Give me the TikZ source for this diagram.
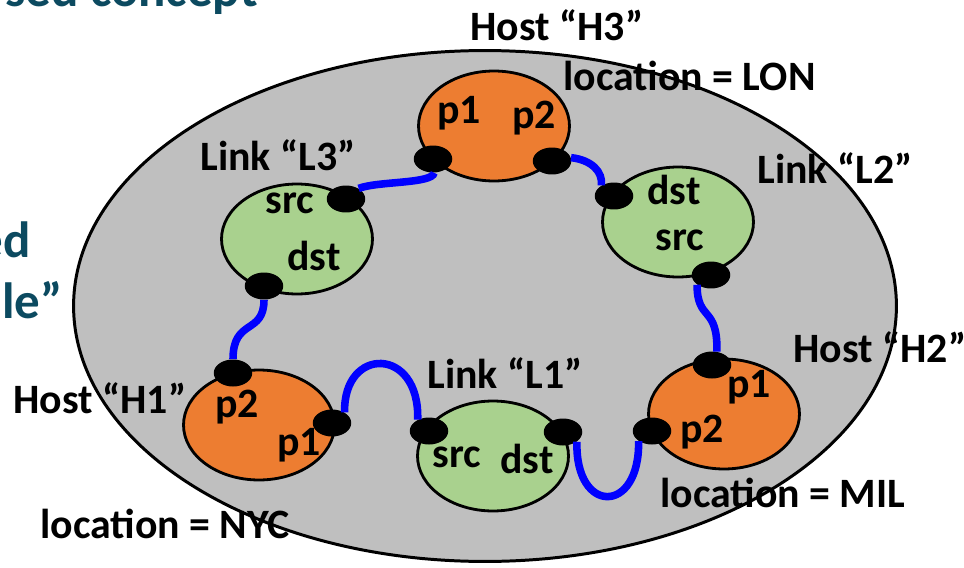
\documentclass[tikz,border=0pt]{standalone}
\usepackage{fontspec}
\setmainfont{Carlito}
\usetikzlibrary{shapes.geometric}
\definecolor{hostorange}{HTML}{ED7D31}
\definecolor{linkgreen}{HTML}{A9D18E}
\definecolor{worldgray}{HTML}{BFBFBF}
\definecolor{slideteal}{RGB}{12,74,96}

\begin{document}
\begin{tikzpicture}[x=0.02cm,y=-0.02cm,
  world/.style={ellipse,draw,line width=1.7pt,fill=worldgray,minimum width=16.46cm,minimum height=10.22cm},
  host/.style={ellipse,draw,line width=1.6pt,fill=hostorange,minimum width=3.02cm,minimum height=2.2cm},
  link/.style={ellipse,draw,line width=1.6pt,fill=linkgreen,minimum width=3.02cm,minimum height=2.2cm},
  port/.style={ellipse,fill=black,minimum width=0.77cm,minimum height=0.54cm,inner sep=0pt},
  wire/.style={blue,line width=4.3pt},
  lbl/.style={anchor=base west,inner sep=0pt,font=\fontsize{23.8}{28}\selectfont\bfseries},
  slide/.style={anchor=base east,inner sep=0pt,text=slideteal,font=\fontsize{29}{34}\selectfont\bfseries}]
  \useasboundingbox (0,0) rectangle (964,568);
  \clip (0,0) rectangle (964,568);

  % cut-off slide text
  \node[slide] (title) at (258,7) {sed concept};
  \node[slide] (side1) at (31,257) {ed};
  \node[slide] (side2) at (63,318) {le”};

  \node[world] (net) at (485,306) {};

  \node[host] (h3) at (494,126) {};
  \node[host] (h1) at (259,425) {};
  \node[host] (h2) at (724,414) {};
  \node[link] (l3) at (297,239) {};
  \node[link] (l2) at (678,222) {};
  \node[link] (l1) at (493,456) {};

  \node[port] (h3p1) at (433,159) {};
  \node[port] (h3p2) at (552,161) {};
  \node[port] (l3src) at (346,199) {};
  \node[port] (l3dst) at (264,286) {};
  \node[port] (l2dst) at (614,196) {};
  \node[port] (l2src) at (711,275) {};
  \node[port] (h1p2) at (233,373) {};
  \node[port] (h1p1) at (332,423) {};
  \node[port] (l1src) at (429,431) {};
  \node[port] (l1dst) at (563,432) {};
  \node[port] (h2p2) at (652,431) {};
  \node[port] (h2p1) at (712,365) {};

  \draw[wire] (l3src.40) .. controls (378,181) and (432,184) .. (h3p1.-85);
  \draw[wire] (h3p2.10) .. controls (592,160) and (603,172) .. (l2dst.140);
  \draw[wire] (l2src.-145) .. controls (697,322) and (718,305) .. (h2p1.70);
  \draw[wire] (l3dst.-90) .. controls (264,335) and (233,318) .. (h1p2.90);
  \draw[wire] (h1p1.40) .. controls (343,346) and (420,346) .. (l1src.135);
  \draw[wire] (l1dst.-35) .. controls (575,515) and (640,515) .. (h2p2.-143);

  \node[lbl] (h3name) at (470,40) {Host “H3”};
  \node[lbl] (h3loc) at (563,90) {location = LON};
  \node[lbl] (l3name) at (200,170) {Link “L3”};
  \node[lbl] (l2name) at (757,183) {Link “L2”};
  \node[lbl] (h2name) at (793,362) {Host “H2”};
  \node[lbl] (l1name) at (427,388) {Link “L1”};
  \node[lbl] (h1name) at (13,413) {Host “H1”};
  \node[lbl] (h1loc) at (40,538) {location = NYC};
  \node[lbl] (h2loc) at (660,507) {location = MIL};

  \node[lbl] (h3p1t) at (437,123) {p1};
  \node[lbl] (h3p2t) at (512,128) {p2};
  \node[lbl] (l3srct) at (265,213) {src};
  \node[lbl] (l3dstt) at (287,270) {dst};
  \node[lbl] (l2dstt) at (647,204) {dst};
  \node[lbl] (l2srct) at (655,250) {src};
  \node[lbl] (h1p2t) at (215,417) {p2};
  \node[lbl] (h1p1t) at (277,455) {p1};
  \node[lbl] (l1srct) at (432,467) {src};
  \node[lbl] (l1dstt) at (500,473) {dst};
  \node[lbl] (h2p1t) at (727,397) {p1};
  \node[lbl] (h2p2t) at (680,442) {p2};
\end{tikzpicture}
\end{document}
